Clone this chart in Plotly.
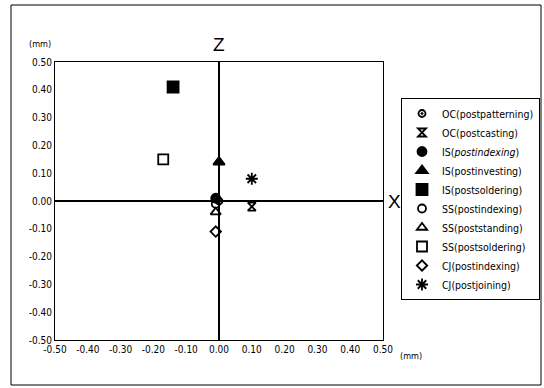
import plotly.graph_objects as go

names = ["OC(postpatterning)", "OC(postcasting)", "IS(<i>postindexing</i>)", "IS(postinvesting)",
         "IS(postsoldering)", "SS(postindexing)", "SS(poststanding)", "SS(postsoldering)",
         "CJ(postindexing)", "CJ(postjoining)"]
x_vals = [0.00, 0.10, -0.01, 0.00, -0.14, -0.01, -0.01, -0.17, -0.01, 0.10]
z_vals = [0.00, -0.02, 0.01, 0.14, 0.41, -0.01, -0.04, 0.15, -0.11, 0.08]
symbols = ["circle-open-dot", "hourglass-open", "circle", "triangle-up", "square",
           "circle-open", "triangle-up-open", "square-open", "diamond-open", "asterisk-open"]
sizes = [7, 8, 9, 10, 11, 8, 9, 10, 8, 10]

tick_vals = [-0.5, -0.4, -0.3, -0.2, -0.1, 0.0, 0.1, 0.2, 0.3, 0.4, 0.5]
tick_text = ["-0.50", "-0.40", "-0.30", "-0.20", "-0.10", "0.00",
             "0.10", "0.20", "0.30", "0.40", "0.50"]

FONT = "DejaVu Sans Condensed, Liberation Sans Narrow, Arial Narrow, sans-serif"

fig = go.Figure()
for n, xv, zv, s, sz in zip(names, x_vals, z_vals, symbols, sizes):
    fig.add_trace(go.Scatter(
        x=[xv], y=[zv], mode="markers", name=n,
        marker=dict(symbol=s, size=sz, color="black",
                    line=dict(color="black", width=1.8)),
    ))

L, R, T, B = 55, 161, 62, 48
W, H = 544, 388
pw, ph = W - L - R, H - T - B

def px(xp):
    return (xp - L) / pw

def py(yp):
    return (H - B - yp) / ph

fig.update_layout(
    width=W, height=H,
    margin=dict(l=L, r=R, t=T, b=B, autoexpand=False),
    paper_bgcolor="white", plot_bgcolor="white",
    font=dict(family=FONT, size=10, color="black"),
    showlegend=True,
    legend=dict(x=px(401), y=py(98), xanchor="left", yanchor="top",
                bordercolor="black", borderwidth=1, bgcolor="white",
                font=dict(family=FONT, size=10.5, color="black"),
                tracegroupgap=0, itemwidth=30, itemsizing="trace"),
    xaxis=dict(range=[-0.5, 0.5], tickvals=tick_vals, ticktext=tick_text,
               showgrid=False, zeroline=True, zerolinecolor="black", zerolinewidth=2,
               showline=True, linecolor="black", linewidth=1, mirror=True,
               ticks="", tickfont=dict(family=FONT, size=10)),
    yaxis=dict(range=[-0.5, 0.5], tickvals=tick_vals, ticktext=tick_text,
               showgrid=False, zeroline=True, zerolinecolor="black", zerolinewidth=2,
               showline=True, linecolor="black", linewidth=1, mirror=True,
               ticks="", tickfont=dict(family=FONT, size=10)),
    shapes=[dict(type="rect", xref="paper", yref="paper",
                 x0=px(11), x1=px(541), y0=py(385), y1=py(5),
                 line=dict(color="black", width=1))],
    annotations=[
        dict(text="Z", x=0, xref="x", y=py(45), yref="paper", showarrow=False,
             xanchor="center", yanchor="middle",
             font=dict(family="Liberation Sans, sans-serif", size=19, color="black")),
        dict(text="X", x=px(394), xref="paper", y=0, yref="y", showarrow=False,
             xanchor="center", yanchor="middle",
             font=dict(family="Liberation Sans, sans-serif", size=19, color="black")),
        dict(text="(mm)", x=px(40), xref="paper", y=py(44), yref="paper", showarrow=False,
             xanchor="center", yanchor="middle",
             font=dict(family=FONT, size=9, color="black")),
        dict(text="(mm)", x=px(411), xref="paper", y=py(356), yref="paper", showarrow=False,
             xanchor="center", yanchor="middle",
             font=dict(family=FONT, size=9, color="black")),
    ],
)

fig.write_html("out.html", config={"displayModeBar": False},
               post_script="document.body.style.margin='0';")
